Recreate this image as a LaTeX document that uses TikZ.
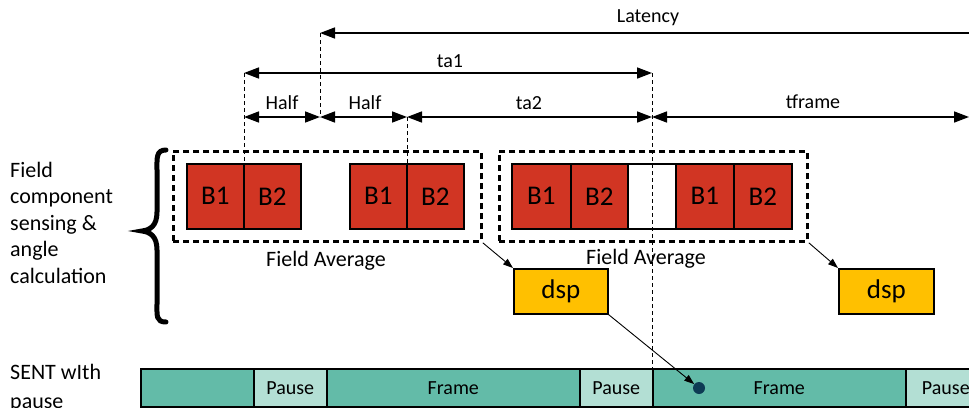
\documentclass[tikz,border=0pt]{standalone}
\usepackage{fontspec}
\setmainfont{Carlito}
\usetikzlibrary{arrows.meta}
\definecolor{bred}{HTML}{D13523}
\definecolor{dspy}{HTML}{FFC000}
\definecolor{tealA}{HTML}{63BBA8}
\definecolor{tealB}{HTML}{B3DFD4}
\definecolor{dotc}{HTML}{0D3B54}
\begin{document}
\begin{tikzpicture}[x=1pt,y=-1pt,
  dimline/.style={{Triangle[length=15pt,width=11pt]}-{Triangle[length=15pt,width=11pt]}, line width=1.6pt},
  onearrow/.style={-{Triangle[length=15pt,width=11pt]}, line width=1.6pt},
  guide/.style={line width=0.8pt, dash pattern=on 4pt off 3pt},
  lbl/.style={font=\fontsize{20}{24}\selectfont, inner sep=0pt},
  bbox/.style={draw=black, line width=1.6pt, fill=bred, minimum width=57pt, minimum height=65pt, inner sep=0pt, font=\fontsize{27}{30}\selectfont, anchor=north west},
  wbox/.style={bbox, fill=white},
  grp/.style={draw=black, line width=2.8pt, dash pattern=on 6pt off 4pt},
  dspbox/.style={draw=black, line width=1.6pt, fill=dspy, minimum width=94pt, minimum height=45pt, inner sep=0pt, font=\fontsize{27}{30}\selectfont, anchor=north west},
  seg/.style={draw=black, line width=1.6pt, fill=tealA, minimum height=38pt, inner sep=0pt, font=\fontsize{20}{24}\selectfont, anchor=north west},
  pseg/.style={seg, fill=tealB},
  thinarrow/.style={-{Triangle[length=10pt,width=7pt]}, line width=0.9pt}
]
\useasboundingbox (0,0) rectangle (969,407);

% dimension coordinates
\coordinate (L0) at (320,33);
\coordinate (L1) at (969,33);
\coordinate (T0) at (244,73);
\coordinate (T1) at (652,73);
\coordinate (H0) at (244,117);
\coordinate (H1) at (320,117);
\coordinate (H2) at (407,117);
\coordinate (H3) at (652,117);
\coordinate (H4) at (969,117);

% guide lines
\coordinate (gA) at (320,117);
\coordinate (gB) at (244,163);
\coordinate (gC) at (407,163);
\coordinate (gD) at (652,368);
\draw[guide] (L0) -- (gA);
\draw[guide] (T0) -- (gB);
\draw[guide] (H2) -- (gC);

% boxes
\node[bbox] (b1) at (186,163) {B1};
\node[bbox] (b2) at (243,163) {B2};
\node[bbox] (b3) at (349,163) {B1};
\node[bbox] (b4) at (406,163) {B2};
\node[bbox, minimum width=59pt] (b5) at (511,163) {B1};
\node[bbox] (b6) at (570,163) {B2};
\node[wbox, minimum width=48pt] (b7) at (627,163) {};
\node[bbox, minimum width=58pt] (b8) at (675,163) {B1};
\node[bbox, minimum width=58pt] (b9) at (733,163) {B2};

\draw[guide] (T1) -- (gD);

\node[grp, minimum width=308pt, minimum height=90pt, anchor=north west, inner sep=0pt] (g1) at (172,150) {};
\node[grp, minimum width=308pt, minimum height=90pt, anchor=north west, inner sep=0pt] (g2) at (498,150) {};

\node[font=\fontsize{22}{26}\selectfont, inner sep=0pt] (fa1) at (326,261) {Field Average};
\node[font=\fontsize{22}{26}\selectfont, inner sep=0pt] (fa2) at (646,259) {Field Average};

\node[dspbox] (d1) at (513,268) {dsp};
\node[dspbox, minimum width=95pt] (d2) at (838,268) {dsp};

% dimension lines
\draw[onearrow] (L1) -- (L0);
\draw[dimline] (T0) -- (T1);
\draw[dimline] (H0) -- (H1);
\draw[dimline] (H1) -- (H2);
\draw[dimline] (H2) -- (H3);
\draw[dimline] (H3) -- (H4);

\node[lbl] (lat) at (648,18) {Latency};
\node[lbl] (ta1) at (450,61) {ta1};
\node[lbl] (h1) at (282,103) {Half};
\node[lbl] (h2) at (365,103) {Half};
\node[lbl] (ta2) at (529,103) {ta2};
\node[lbl] (tf) at (813,102) {tframe};

% bottom bar
\node[seg, minimum width=113pt] (s1) at (140,368) {};
\node[pseg, minimum width=73pt] (s2) at (253,368) {Pause};
\node[seg, minimum width=253pt] (s3) at (326,368) {Frame};
\node[pseg, minimum width=73pt] (s4) at (579,368) {Pause};
\node[seg, minimum width=253pt] (s5) at (652,368) {Frame};
\node[pseg, minimum width=80pt] (s6) at (905,368) {Pause};

\fill[dotc] (699,388) circle (6pt);
\node[circle, minimum size=12pt, inner sep=0pt] (dotn) at (699,388) {};

% connectors
\draw[thinarrow] (g1.south east) -- (d1.north west);
\draw[thinarrow] (g2.south east) -- (d2.north west);
\draw[thinarrow] (d1.south east) -- (dotn);

% left text
\node[anchor=north west, align=left, inner sep=0pt, font=\fontsize{22}{26.5}\selectfont] (lt) at (10,162) {Field\\component\\sensing \&\\angle\\calculation};
\node[anchor=north west, align=left, inner sep=0pt, font=\fontsize{22}{29}\selectfont] (st) at (10,364) {SENT wIth\\pause};

% brace
\draw[line width=5pt, line cap=round] (166,150) .. controls (156,150) and (157,158) .. (157,170) -- (157,212) .. controls (157,226) and (150,230) .. (142,231) .. controls (150,232) and (157,236) .. (157,250) -- (157,304) .. controls (157,316) and (156,322) .. (166,322);
\end{tikzpicture}
\end{document}
